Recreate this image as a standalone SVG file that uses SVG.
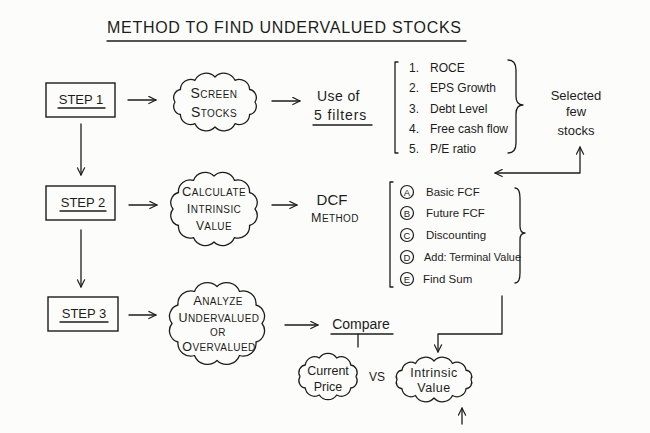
<svg xmlns="http://www.w3.org/2000/svg" width="650" height="433" viewBox="0 0 650 433">
<defs>
<style>
.ln{fill:none;stroke:#1c1c1c;stroke-width:1.3;stroke-linecap:round;stroke-linejoin:round}
.bx{fill:none;stroke:#1c1c1c;stroke-width:1.4}
.cl{fill:#fcfcfa;stroke:#1c1c1c;stroke-width:1.3;stroke-linejoin:round}
text{font-family:"Liberation Sans","DejaVu Sans",sans-serif;fill:#1c1c1c}
.mid{text-anchor:middle}
.sc{font-size:10px;letter-spacing:0.4px}
.it{font-size:12px}
.it2{font-size:11.5px}
.hw{font-size:13px}
</style>
<marker id="ah" viewBox="0 0 10 10" refX="9" refY="5" markerWidth="9" markerHeight="9" markerUnits="userSpaceOnUse" orient="auto-start-reverse">
<path d="M1,1 L9,5 L1,9" fill="none" stroke="#1c1c1c" stroke-width="1.3" stroke-linecap="round" stroke-linejoin="round"/>
</marker>
</defs>
<rect width="650" height="433" fill="#fcfcfa"/>

<g id="title">
<text x="107" y="33" font-size="16" textLength="354" lengthAdjust="spacing">METHOD TO FIND UNDERVALUED STOCKS</text>
<line class="ln" x1="107" y1="41" x2="466" y2="41"/>
</g>

<g id="step1">
<rect class="bx" x="46" y="83" width="69" height="34"/>
<text class="mid" x="81" y="104" font-size="13">STEP 1</text>
<line class="ln" x1="58" y1="108" x2="105" y2="108"/>
</g>
<g id="step2">
<rect class="bx" x="46" y="186" width="69" height="34"/>
<text class="mid" x="83" y="207" font-size="13">STEP 2</text>
<line class="ln" x1="60" y1="211" x2="106" y2="211"/>
</g>
<g id="step3">
<rect class="bx" x="48" y="297" width="70" height="34"/>
<text class="mid" x="84" y="318" font-size="13">STEP 3</text>
<line class="ln" x1="60" y1="322" x2="108" y2="322"/>
</g>

<g id="screen-stocks">
<path class="cl" d="M255,102 A8.2,8.2 0 0 1 249.6,114.5 A10.4,10.4 0 0 1 235,123.7 A12.2,12.2 0 0 1 215,127 A12.2,12.2 0 0 1 195,123.7 A10.4,10.4 0 0 1 180.4,114.5 A8.2,8.2 0 0 1 175,102 A8.2,8.2 0 0 1 180.4,89.5 A10.4,10.4 0 0 1 195,80.3 A12.2,12.2 0 0 1 215,77 A12.2,12.2 0 0 1 235,80.3 A10.4,10.4 0 0 1 249.6,89.5 A8.2,8.2 0 0 1 255,102 Z"/>
<text class="mid sc" x="214" y="98" font-size="11.5"><tspan font-size="14">S</tspan>CREEN</text>
<text class="mid sc" x="214" y="117" font-size="11.5"><tspan font-size="14">S</tspan>TOCKS</text>
</g>

<g id="calculate-intrinsic-value">
<path class="cl" d="M255,209 A10.4,10.4 0 0 1 249.5,225.5 A11.6,11.6 0 0 1 234.5,237.6 A12.6,12.6 0 0 1 214,242 A12.6,12.6 0 0 1 193.5,237.6 A11.6,11.6 0 0 1 178.5,225.5 A10.4,10.4 0 0 1 173,209 A10.4,10.4 0 0 1 178.5,192.5 A11.6,11.6 0 0 1 193.5,180.4 A12.6,12.6 0 0 1 214,176 A12.6,12.6 0 0 1 234.5,180.4 A11.6,11.6 0 0 1 249.5,192.5 A10.4,10.4 0 0 1 255,209 Z"/>
<text class="mid sc" x="214" y="196"><tspan font-size="13">C</tspan>ALCULATE</text>
<text class="mid sc" x="214" y="213"><tspan font-size="13">I</tspan>NTRINSIC</text>
<text class="mid sc" x="214" y="230"><tspan font-size="12">V</tspan>ALUE</text>
</g>

<g id="analyze">
<path class="cl" d="M262,323.5 A11.7,11.7 0 0 1 256,342 A12.8,12.8 0 0 1 239.5,355.5 A13.8,13.8 0 0 1 217,360.5 A13.8,13.8 0 0 1 194.5,355.5 A12.8,12.8 0 0 1 178,342 A11.7,11.7 0 0 1 172,323.5 A11.7,11.7 0 0 1 178,305 A12.8,12.8 0 0 1 194.5,291.5 A13.8,13.8 0 0 1 217,286.5 A13.8,13.8 0 0 1 239.5,291.5 A12.8,12.8 0 0 1 256,305 A11.7,11.7 0 0 1 262,323.5 Z"/>
<text class="mid sc" x="218" y="305"><tspan font-size="13">A</tspan>NALYZE</text>
<text class="mid sc" x="219" y="322" font-size="9.5"><tspan font-size="12.5">U</tspan>NDERVALUED</text>
<text class="mid sc" x="218" y="336" font-size="9">OR</text>
<text class="mid sc" x="219" y="351" font-size="9.5"><tspan font-size="12.5">O</tspan>VERVALUED</text>
</g>

<g id="use-of-filters">
<text x="317" y="101" font-size="14" letter-spacing="0.4">Use of</text>
<text x="314" y="120" font-size="14" letter-spacing="0.9">5 filters</text>
<line class="ln" x1="313" y1="125" x2="372" y2="125"/>
</g>

<g id="filters-list">
<path class="ln" d="M398,62 L395,62 L395,153 L398,153"/>
<path class="ln" d="M508,60 Q516,60 516,70 L516,96 Q516,105 523,105 Q516,105 516,114 L516,143 Q516,153 508,153"/>
<text class="it" x="409" y="71.5">1.</text><text class="it" x="430" y="71.5">ROCE</text>
<text class="it" x="409" y="91.5">2.</text><text class="it" x="430" y="91.5">EPS Growth</text>
<text class="it" x="409" y="112.5">3.</text><text class="it" x="430" y="112.5">Debt Level</text>
<text class="it" x="409" y="132.5">4.</text><text class="it" x="430" y="132.5">Free cash flow</text>
<text class="it" x="409" y="152.5">5.</text><text class="it" x="430" y="152.5">P/E ratio</text>
</g>

<g id="selected-few-stocks">
<text class="mid hw" x="576" y="99.5">Selected</text>
<text class="mid hw" x="576" y="116">few</text>
<text class="mid hw" x="576" y="135">stocks</text>
</g>

<g id="dcf-method">
<text class="mid" x="332" y="205" font-size="15">DCF</text>
<text class="mid sc" x="335" y="222"><tspan font-size="12.5">M</tspan>ETHOD</text>
</g>

<g id="dcf-steps">
<path class="ln" d="M393,182 L390,182 L390,287 L393,287"/>
<path class="ln" d="M515,188 Q520,188 520,198 L520,226 Q520,233 525,233 Q520,233 520,240 L520,273 Q520,283 515,283"/>
<g fill="none" stroke="#1c1c1c" stroke-width="1.2">
<circle cx="407" cy="192" r="6.5"/><circle cx="407" cy="213" r="6.5"/><circle cx="407" cy="235" r="6.5"/><circle cx="407" cy="257" r="6.5"/><circle cx="407" cy="279" r="6.5"/>
</g>
<text class="mid" x="407" y="195.5" font-size="9.5">A</text>
<text class="mid" x="407" y="216.5" font-size="9.5">B</text>
<text class="mid" x="407" y="238.5" font-size="9.5">C</text>
<text class="mid" x="407" y="260.5" font-size="9.5">D</text>
<text class="mid" x="407" y="282.5" font-size="9.5">E</text>
<text class="it2" x="426" y="196">Basic FCF</text>
<text class="it2" x="426" y="217">Future FCF</text>
<text class="it2" x="426" y="239">Discounting</text>
<text class="it2" x="424" y="261" textLength="97" lengthAdjust="spacingAndGlyphs">Add: Terminal Value</text>
<text class="it2" x="423" y="283">Find Sum</text>
</g>

<g id="compare">
<text class="mid" x="361" y="329" font-size="14">Compare</text>
<line class="ln" x1="331" y1="334" x2="393" y2="334"/>
<line class="ln" x1="358" y1="334" x2="358" y2="347"/>
</g>

<g id="current-price">
<path class="cl" d="M356,376.5 A7.6,7.6 0 0 1 350.7,388 A9.4,9.4 0 0 1 336.7,395 A10.4,10.4 0 0 1 319.3,395 A9.4,9.4 0 0 1 305.3,388 A7.6,7.6 0 0 1 300,376.5 A7.6,7.6 0 0 1 305.3,365 A9.4,9.4 0 0 1 319.3,358 A10.4,10.4 0 0 1 336.7,358 A9.4,9.4 0 0 1 350.7,365 A7.6,7.6 0 0 1 356,376.5 Z"/>
<text class="mid" x="328" y="375" font-size="12.5">Current</text>
<text class="mid" x="328" y="391" font-size="12.5">Price</text>
</g>

<g id="vs">
<text class="mid" x="377" y="381" font-size="12">VS</text>
</g>

<g id="intrinsic-value">
<path class="cl" d="M471,379.5 A6.3,6.3 0 0 1 466,388.75 A9,9 0 0 1 452.5,395.5 A11.2,11.2 0 0 1 434,398 A11.2,11.2 0 0 1 415.5,395.5 A9,9 0 0 1 402,388.75 A6.3,6.3 0 0 1 397,379.5 A6.3,6.3 0 0 1 402,370.25 A9,9 0 0 1 415.5,363.5 A11.2,11.2 0 0 1 434,361 A11.2,11.2 0 0 1 452.5,363.5 A9,9 0 0 1 466,370.25 A6.3,6.3 0 0 1 471,379.5 Z"/>
<text class="mid" x="434" y="377" font-size="12.5" letter-spacing="0.5">Intrinsic</text>
<text class="mid" x="434" y="392" font-size="12.5" letter-spacing="0.5">Value</text>
</g>

<g id="connectors">
<path class="ln" d="M81,124 L81,175" marker-end="url(#ah)"/>
<path class="ln" d="M81,230 L81,287" marker-end="url(#ah)"/>
<path class="ln" d="M128,100 L156,100" marker-end="url(#ah)"/>
<path class="ln" d="M272,101 L300,101" marker-end="url(#ah)"/>
<path class="ln" d="M129,205 L157,205" marker-end="url(#ah)"/>
<path class="ln" d="M272,205 L297,205" marker-end="url(#ah)"/>
<path class="ln" d="M129,315 L156,315" marker-end="url(#ah)"/>
<path class="ln" d="M285,325 L318,325" marker-end="url(#ah)"/>
<path class="ln" d="M495,173 L580,173 L580,147" marker-start="url(#ah)" marker-end="url(#ah)"/>
<path class="ln" d="M502,296 L502,334 L438,334 L438,352" marker-end="url(#ah)"/>
<path class="ln" d="M462,424 L462,408" marker-end="url(#ah)"/>
</g>
</svg>
